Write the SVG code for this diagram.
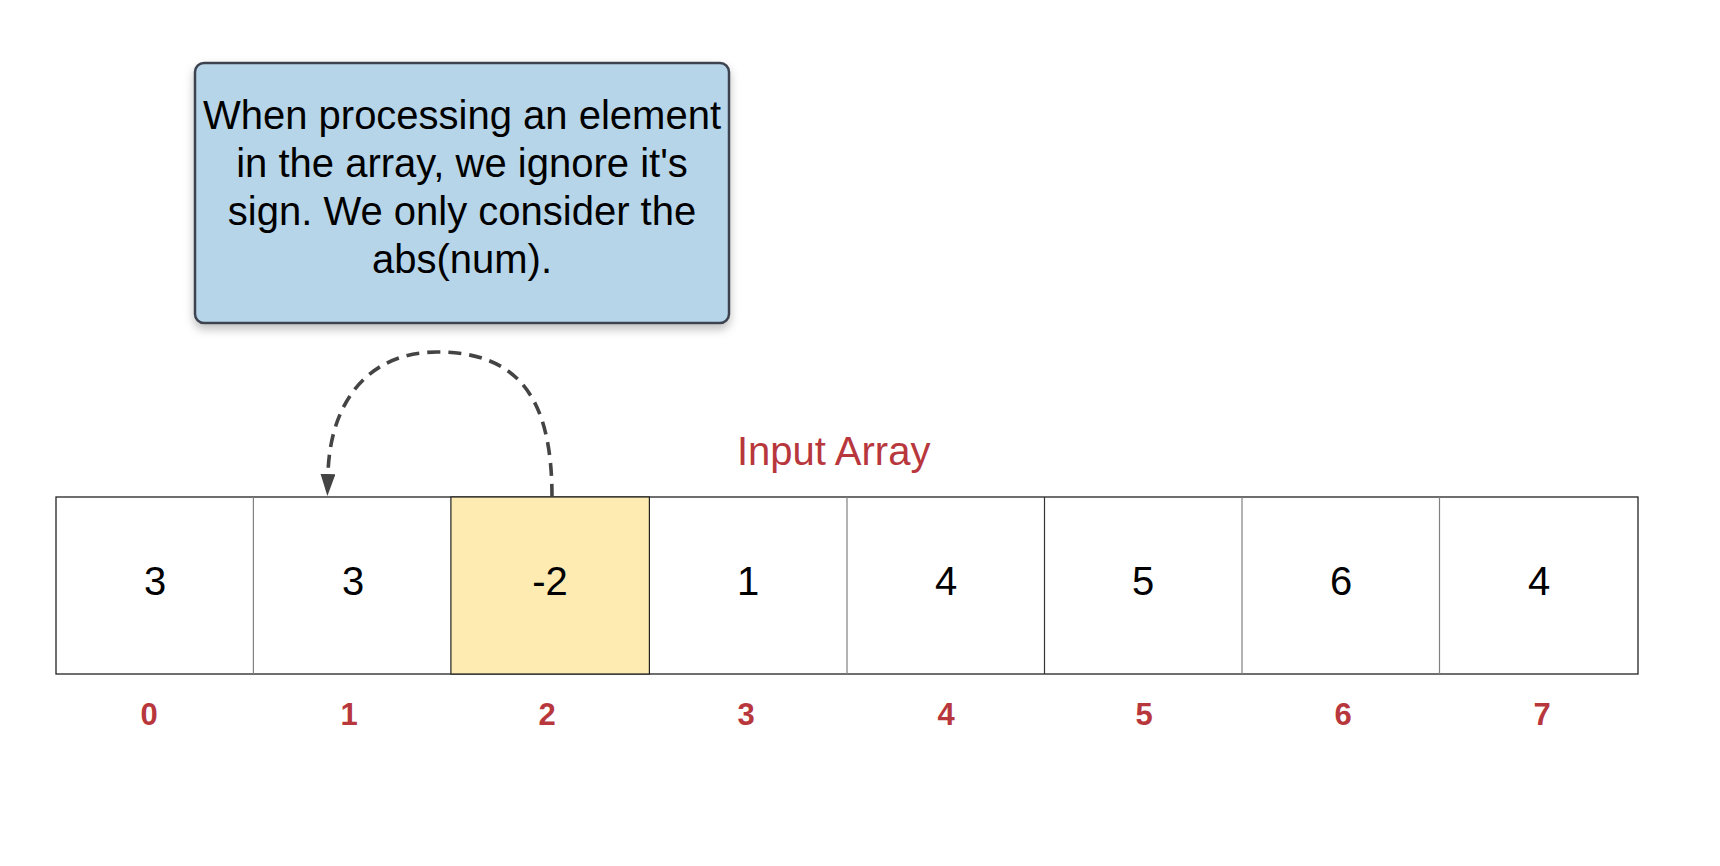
<svg xmlns="http://www.w3.org/2000/svg" width="1720" height="866" viewBox="0 0 1720 866">
<defs>
<style>
.val{font-family:"Liberation Sans",Arial,sans-serif;font-size:40px;fill:#000;text-anchor:middle}
.idx{font-family:"Liberation Sans",Arial,sans-serif;font-size:31px;font-weight:bold;fill:#b8373d;text-anchor:middle}
.note{font-family:"Liberation Sans",Arial,sans-serif;font-size:40px;fill:#000;text-anchor:middle}
.cell{fill:#fff;stroke:#222;stroke-width:1.3}
.div{stroke:#808080;stroke-width:1.2}
</style>
<filter id="sh" x="-10%" y="-10%" width="120%" height="130%">
<feDropShadow dx="0" dy="5" stdDeviation="5" flood-color="#000" flood-opacity="0.25"/>
</filter>
<marker id="ah" markerUnits="userSpaceOnUse" markerWidth="22" markerHeight="15" refX="0" refY="7.5" orient="auto">
<path d="M0,0 L22,7.5 L0,15 z" fill="#444"/>
</marker>
</defs>
<rect width="1720" height="866" fill="#fff"/>

<g id="callout">
<rect x="195" y="63" width="534" height="260" rx="9" fill="#b7d5e9" stroke="#3c4350" stroke-width="2.5" filter="url(#sh)"/>
<text class="note" x="462" y="129">When processing an element</text>
<text class="note" x="462" y="177">in the array, we ignore it's</text>
<text class="note" x="462" y="225">sign. We only consider the</text>
<text class="note" x="462" y="273">abs(num).</text>
</g>

<g id="title">
<text x="737" y="465" font-family="Liberation Sans, Arial, sans-serif" font-size="40" fill="#b8373d">Input Array</text>
</g>

<g id="array">
<rect class="cell" x="56" y="497" width="1582" height="177"/>
<rect x="450.9" y="497" width="198.5" height="177" fill="#fdebb2" stroke="#222" stroke-width="1.2"/>
<line class="div" x1="253.4" y1="497" x2="253.4" y2="674" stroke-width="2"/>
<line class="div" x1="847" y1="497" x2="847" y2="674"/>
<line x1="1044.5" y1="497" x2="1044.5" y2="674" stroke="#333" stroke-width="1.2"/>
<line class="div" x1="1242" y1="497" x2="1242" y2="674"/>
<line class="div" x1="1439.5" y1="497" x2="1439.5" y2="674"/>
<text class="val" x="155" y="595">3</text>
<text class="val" x="353" y="595">3</text>
<text class="val" x="550" y="595">-2</text>
<text class="val" x="748" y="595">1</text>
<text class="val" x="946" y="595">4</text>
<text class="val" x="1143" y="595">5</text>
<text class="val" x="1341" y="595">6</text>
<text class="val" x="1539" y="595">4</text>
</g>

<g id="indices">
<text class="idx" x="149" y="725">0</text>
<text class="idx" x="349" y="725">1</text>
<text class="idx" x="547" y="725">2</text>
<text class="idx" x="746" y="725">3</text>
<text class="idx" x="946" y="725">4</text>
<text class="idx" x="1144" y="725">5</text>
<text class="idx" x="1343" y="725">6</text>
<text class="idx" x="1542" y="725">7</text>
</g>

<g id="connectors">
<path d="M552,497 C552,400 520,352 437,352 C370,352 330,400 328,474" fill="none" stroke="#444" stroke-width="3.6" stroke-dasharray="13 8" marker-end="url(#ah)"/>
</g>
</svg>
